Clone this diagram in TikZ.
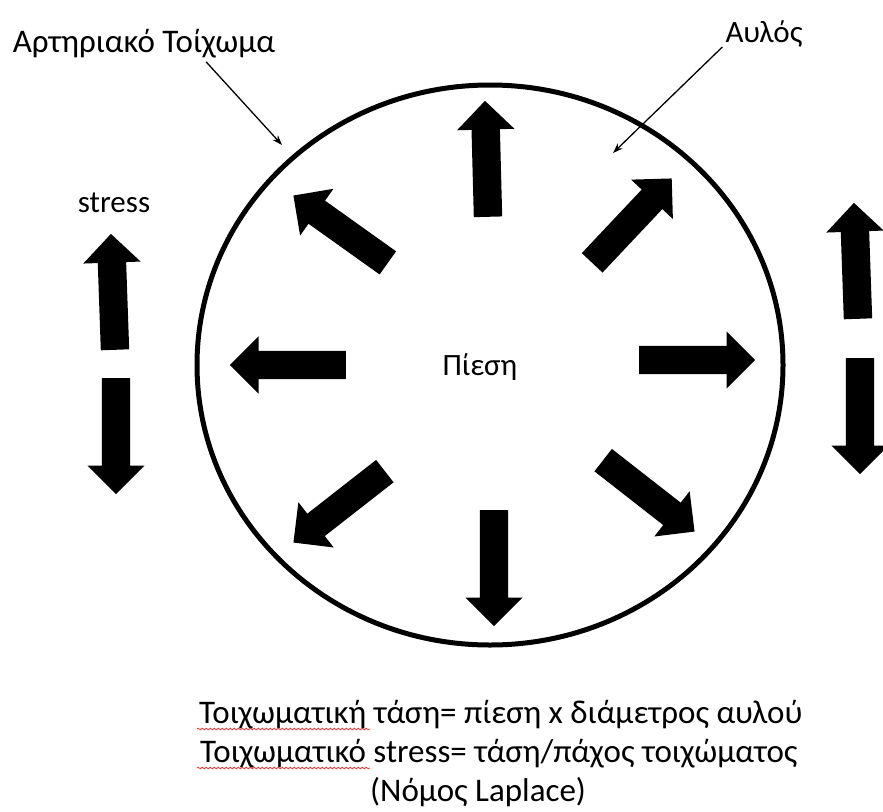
\documentclass[tikz,border=0pt]{standalone}
\usepackage{fontspec}
\setmainfont{Carlito}
\usetikzlibrary{positioning}
\usetikzlibrary{shapes,arrows,arrows.meta}
\usetikzlibrary{decorations.pathmorphing}
\tikzset{%
  push/.style     = {single arrow, fill=black, inner sep=14pt,
    minimum height=116pt, single arrow head extend=14.5pt, anchor=tail}, % block arrow
  txt/.style      = {inner sep=0pt, anchor=base, font=\fontsize{31}{37}\selectfont}, % label
  law/.style      = {inner sep=0pt, anchor=base west, font=\fontsize{33}{39}\selectfont}, % formula
  pointer/.style  = {->, line width=1.3pt}, % pointer
  squiggle/.style = {red!85, line width=0.7pt, decorate,
    decoration={snake, amplitude=0.9pt, segment length=4pt}}
}

\begin{document}
\begin{tikzpicture}[x=1pt, y=-1pt, >={Stealth[length=10pt, width=7pt]}]

  \useasboundingbox (0,0) rectangle (883,811);

  % vessel
  \node[draw, ellipse, line width=5pt, minimum width=586pt, minimum height=560pt,
    inner sep=0pt] (vessel) at (490,365) {};

  % pressure arrows
  \node[push, rotate=91.5] (pn)  at (488,217) {};
  \node[push, rotate=144.5] (pnw) at (388,263) {};
  \node[push, rotate=180]  (pw)  at (346,365) {};
  \node[push, rotate=218]  (psw) at (385,471) {};
  \node[push, rotate=270]  (ps)  at (494,510) {};
  \node[push, rotate=-38]  (pse) at (603,460) {};
  \node[push, rotate=0]    (pe)  at (639,360) {};
  \node[push, rotate=46.7] (pne) at (592,263) {};

  % stress arrows
  \node[push, rotate=92]  (lup)   at (115,350) {};
  \node[push, rotate=270] (ldown) at (116,378) {};
  \node[push, rotate=92]  (rup)   at (858,319) {};
  \node[push, rotate=270] (rdown) at (860,358) {};

  % labels
  \node[txt, font=\fontsize{33}{39}\selectfont] (wall) at (144,52) {Αρτηριακό Τοίχωμα};
  \node[txt] (lumen)    at (764,42)  {Αυλός};
  \node[txt] (stress)   at (114,212) {stress};
  \node[txt] (pressure) at (480,375) {Πίεση};

  \coordinate (wallhit)  at (282,145);
  \coordinate (lumenhit) at (613,153);
  \draw[pointer] ([xshift=62pt, yshift=-4pt]wall.south) -- (wallhit);
  \draw[pointer] ([xshift=-3pt]lumen.south west) -- (lumenhit);

  % formulas
  \node[law] (law1) at (199,723) {Τοιχωματική τάση= πίεση x διάμετρος αυλού};
  \node[law] (law2) at (200,762) {Τοιχωματικό stress= τάση/πάχος τοιχώματος};
  \node[law] (law3) at (370,801) {(Νόμος Laplace)};

  \draw[squiggle] ([xshift=-2pt, yshift=-6pt]law1.base west) -- ++(173,0);
  \draw[squiggle] ([xshift=-3pt, yshift=-6pt]law2.base west) -- ++(173,0);

\end{tikzpicture}
\end{document}
